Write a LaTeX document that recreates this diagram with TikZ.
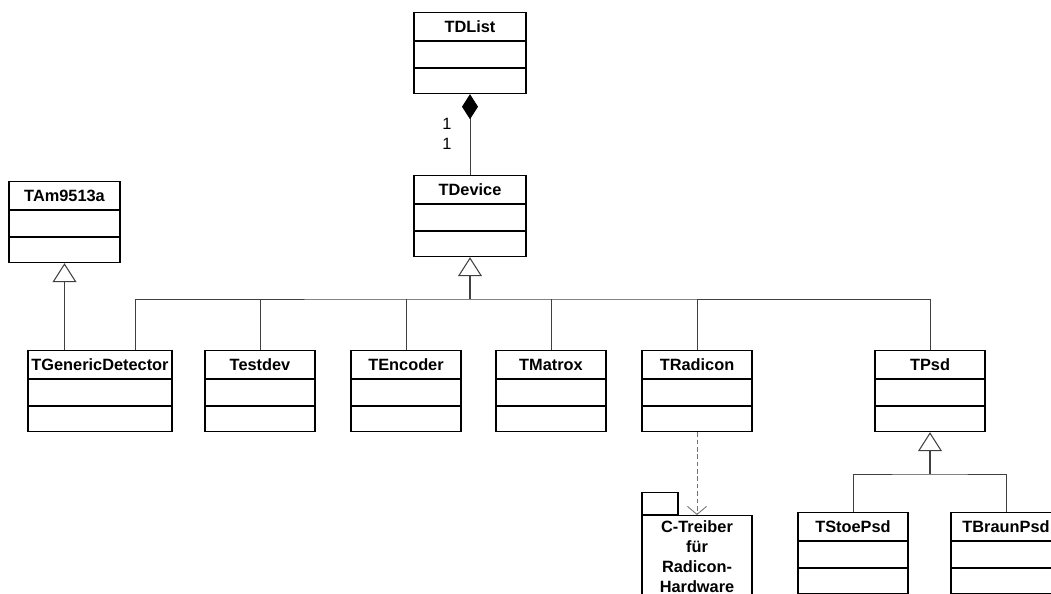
\documentclass[tikz,border=0pt]{standalone}
\usepackage{fontspec}
\setmainfont{Liberation Sans}
\usetikzlibrary{arrows.meta,calc}

\tikzset{
  classbox/.style={draw=black, line width=0.7pt, minimum height=1.62cm, inner sep=0pt, anchor=north},
  classtitle/.style={font=\fontsize{9.3}{11}\selectfont\bfseries, inner sep=0pt},
  mult/.style={font=\fontsize{9.3}{11}\selectfont, inner sep=0pt},
  link/.style={draw=black!75, line width=0.5pt},
  inherit/.style={link, -{Triangle[open, length=0.38cm, width=0.48cm, line width=0.6pt]}},
  pkgbox/.style={draw=black, line width=0.7pt, anchor=north, minimum width=2.2cm, inner ysep=3pt,
    align=center, font=\fontsize{9.3}{11.3}\selectfont\bfseries},
  pkgtab/.style={draw=black, line width=0.7pt, anchor=south west, minimum width=0.72cm, minimum height=0.44cm, inner sep=0pt}
}

\newcommand{\umlclass}[5]{%
  \node[classbox, minimum width=#4] (#1) at (#2,#3) {};
  \node[classtitle] (#1-title) at ($(#1.north)+(0,14.5)$) {#5};
  \draw[line width=0.7pt] ($(#1.north west)+(0,29)$) -- ($(#1.north east)+(0,29)$);
  \draw[line width=0.7pt] ($(#1.north west)+(0,56)$) -- ($(#1.north east)+(0,56)$);
}

\begin{document}
\begin{tikzpicture}[x=0.02cm, y=-0.02cm]
  \useasboundingbox (0,0) rectangle (1051,594);
  \clip (0,0) rectangle (1051,594);

  \umlclass{tdlist}{470}{12}{2.24cm}{TDList}
  \umlclass{tdevice}{470}{175}{2.24cm}{TDevice}
  \umlclass{tam}{64.5}{181}{2.22cm}{TAm9513a}
  \umlclass{tgeneric}{100}{350}{2.88cm}{TGenericDetector}
  \umlclass{testdev}{260}{350}{2.2cm}{Testdev}
  \umlclass{tencoder}{406}{350}{2.2cm}{TEncoder}
  \umlclass{tmatrox}{551}{350}{2.2cm}{TMatrox}
  \umlclass{tradicon}{697}{350}{2.2cm}{TRadicon}
  \umlclass{tpsd}{930}{350}{2.2cm}{TPsd}
  \umlclass{tstoe}{853}{512}{2.2cm}{TStoePsd}
  \umlclass{tbraun}{1006}{512}{2.2cm}{TBraunPsd}

  \node[pkgbox] (pkg) at (697,515) {C-Treiber\\für\\Radicon-\\Hardware};
  \node[pkgtab] (pkgtab) at (pkg.north west) {};

  \draw[link, {Diamond[length=0.5cm, width=0.32cm, black, fill=black]}-] (tdlist.south) -- (tdevice.north);
  \node[mult] (m1) at (447,124) {1};
  \node[mult] (m2) at (447,144) {1};

  \coordinate (bus) at (470,299);
  \draw[link] ($(tgeneric.north)+(35,0)$) |- (bus) -| (tpsd.north);
  \draw[inherit, line width=0.9pt] (bus) -- (tdevice.south);
  \foreach \c in {testdev,tencoder,tmatrox,tradicon}
    \draw[link] (\c.north) -- (\c.north |- bus);

  \draw[inherit] (tgeneric.north -| tam.south) -- (tam.south);

  \coordinate (psdbus) at (930,474);
  \draw[link] (tstoe.north) |- (psdbus) -| (tbraun.north);
  \draw[inherit, line width=0.9pt] (psdbus) -- (tpsd.south);

  \draw[link, draw=black!55, dash pattern=on 2.6pt off 1.6pt, -{Straight Barb[length=0.16cm, width=0.38cm]}] (tradicon.south) -- (pkg.north);
\end{tikzpicture}
\end{document}
